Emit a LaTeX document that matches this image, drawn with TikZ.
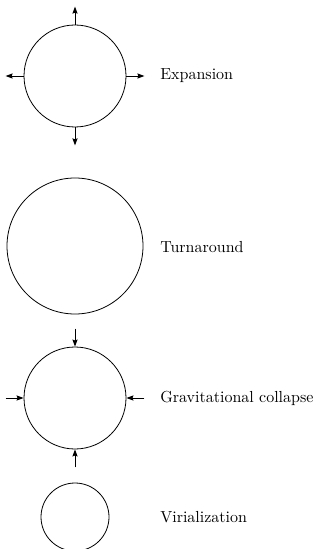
\documentclass[tikz,border=0pt]{standalone}
\usetikzlibrary{arrows.meta}
\begin{document}
\begin{tikzpicture}[x=0.625pt,y=-0.625pt,declare function={L=18;},
    every node/.style={font=\normalsize},
    blob/.style={draw,circle,inner sep=0pt,line width=0.5pt},
    stage/.style={anchor=west,inner sep=0pt},
    flow/.style={-{Stealth[length=4.4pt,width=3.2pt,inset=0.6pt]},line width=0.6pt}]
  \useasboundingbox (0,0) rectangle (321,549);
  % expansion
  \node[blob,minimum size=63.75pt] (ex) at (75,76) {};
  \foreach \a/\dx/\dy in {north/0/-L,south/0/L,west/-L/0,east/L/0}{
    \draw[flow] (ex.\a) -- ++(\dx,\dy);
  }
  \node[stage] (exl) at (160,76) {Expansion};
  % turnaround
  \node[blob,minimum size=85pt] (ta) at (75,246) {};
  \node[stage] (tal) at (160,247) {Turnaround};
  % collapse
  \node[blob,minimum size=63.75pt] (co) at (75,398) {};
  \foreach \a/\dx/\dy in {north/0/-L,south/0/L,west/-L/0,east/L/0}{
    \draw[flow] (co.\a) ++(\dx,\dy) -- (co.\a);
  }
  \node[stage] (col) at (160,398) {Gravitational collapse};
  % virialization
  \node[blob,minimum size=42.5pt] (vi) at (75,517) {};
  \node[stage] (vil) at (160,517) {Virialization};
\end{tikzpicture}
\end{document}
